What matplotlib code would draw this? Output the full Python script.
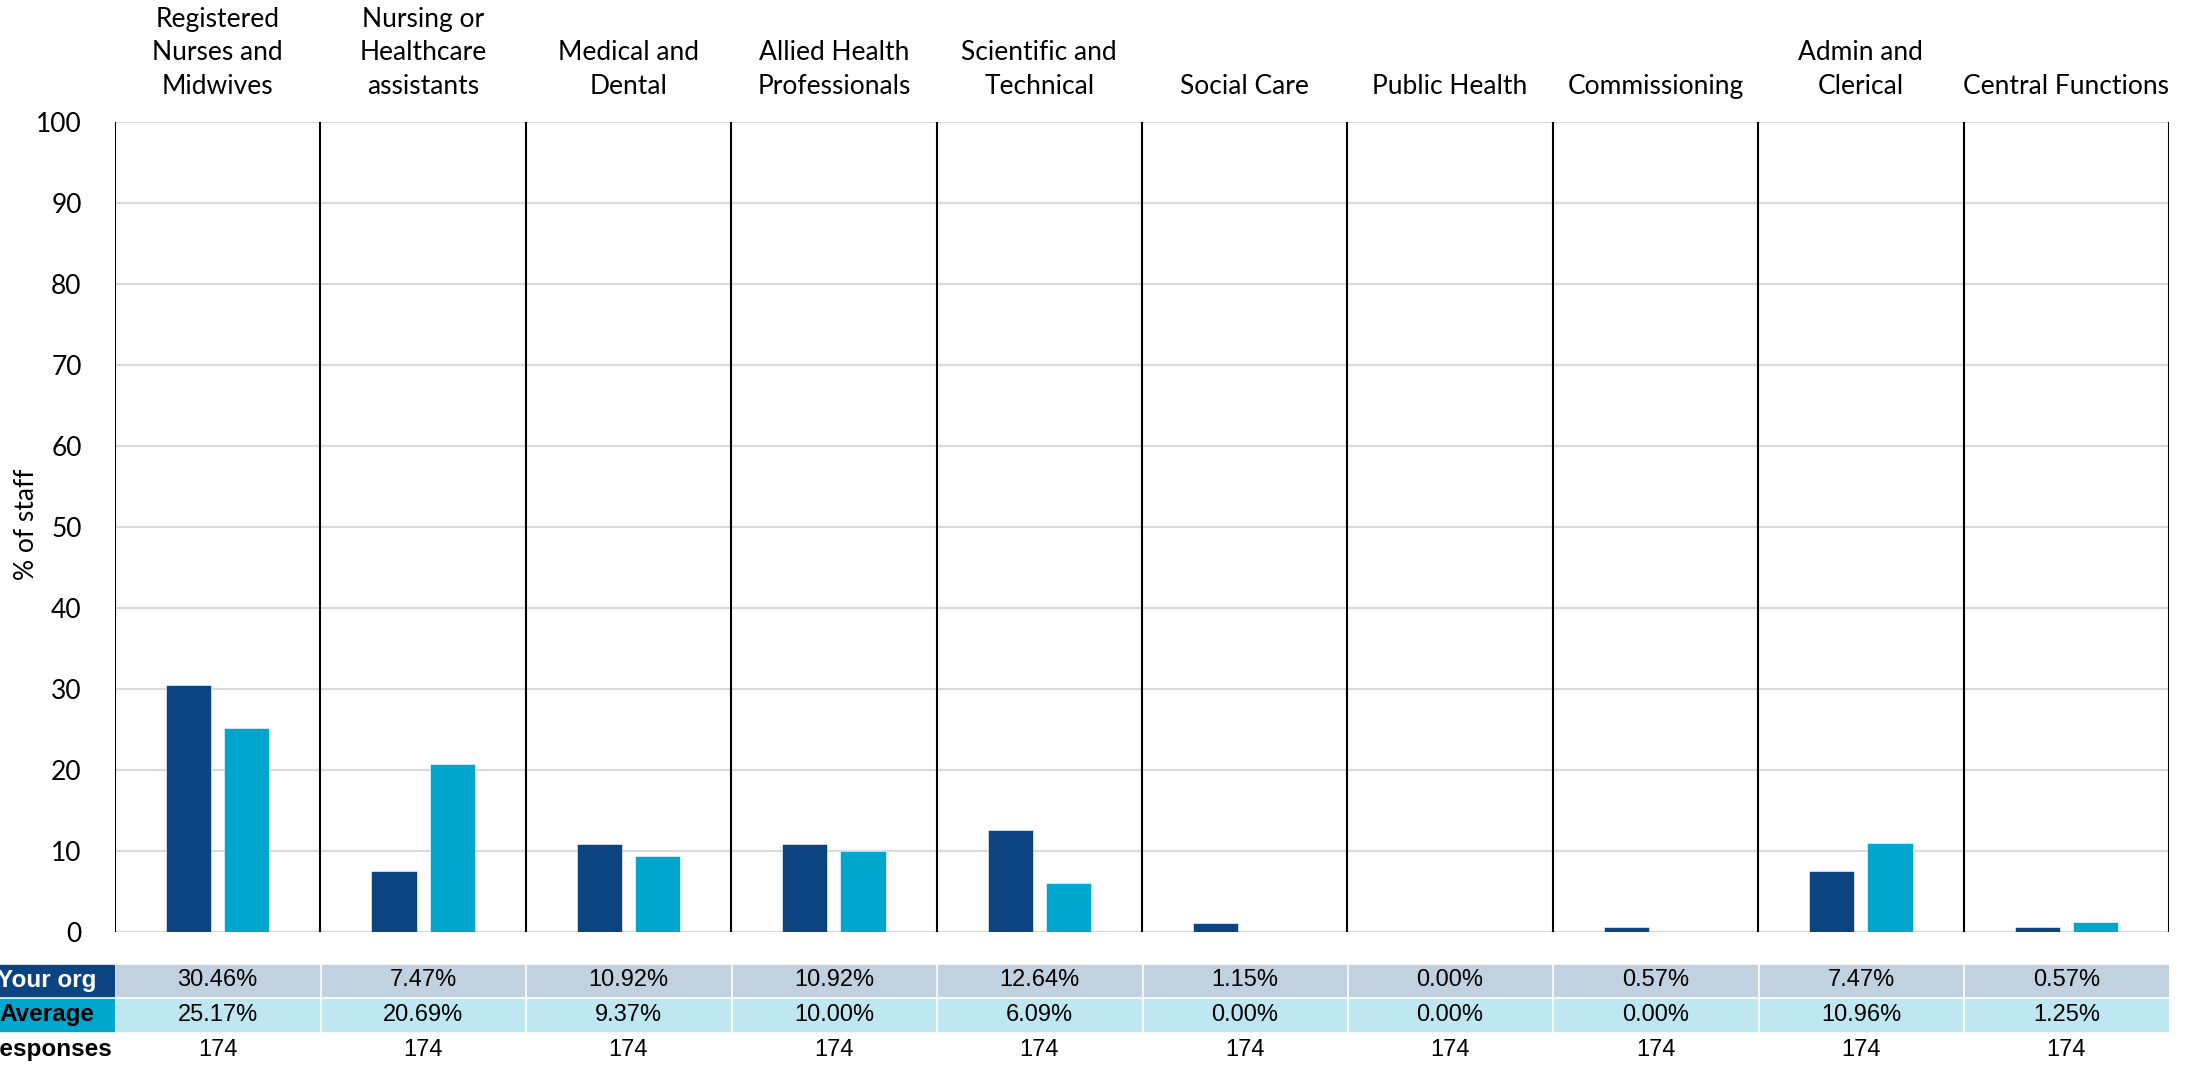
import numpy as np
import matplotlib
matplotlib.use("Agg")
import matplotlib.pyplot as plt
from matplotlib.patches import Rectangle

categories = ["Registered\nNurses and\nMidwives", "Nursing or\nHealthcare\nassistants",
              "Medical and\nDental", "Allied Health\nProfessionals", "Scientific and\nTechnical",
              "Social Care", "Public Health", "Commissioning", "Admin and\nClerical",
              "Central Functions"]
your_org = [30.46, 7.47, 10.92, 10.92, 12.64, 1.15, 0.00, 0.57, 7.47, 0.57]
average = [25.17, 20.69, 9.37, 10.00, 6.09, 0.00, 0.00, 0.00, 10.96, 1.25]
responses = [174] * 10
yticks = list(range(0, 101, 10))

DARK, LIGHT = "#0B4480", "#00A6CC"
DARK_CELL, LIGHT_CELL = "#C2D1E0", "#BFE7F1"
W, H = 2187, 1067

fig = plt.figure(figsize=(W / 100, H / 100), dpi=100)
# plot area in pixels: x 115..2169, y 122..932
L, R, T, B = 115, 2169, 122, 932
ax = fig.add_axes([L / W, 1 - B / H, (R - L) / W, (B - T) / H])
x = np.arange(len(categories))
bw, off = 0.22, 0.142
ax.bar(x - off, your_org, bw, color=DARK, edgecolor="white", linewidth=0.4, zorder=3)
ax.bar(x + off, average, bw, color=LIGHT, edgecolor="white", linewidth=0.4, zorder=3)
ax.set_xlim(-0.5, len(categories) - 0.5)
ax.set_ylim(0, 100)
ax.set_yticks(yticks)
ax.yaxis.grid(True, color="#D9D9D9", linewidth=1.5, zorder=0)
ax.set_xticks([])
for s in ax.spines.values():
    s.set_visible(False)
ax.axhline(0, color="#D9D9D9", linewidth=1.5, zorder=2)
for b in np.arange(-0.5, len(categories), 1.0):
    ax.axvline(b, color="black", linewidth=1.5, zorder=4)
ax.tick_params(axis="y", length=0, pad=24, labelsize=19)
for t in ax.get_yticklabels():
    t.set_fontfamily("Lato")
fig.text(26 / W, 1 - 524 / H, "% of staff", rotation=90, ha="center", va="center",
         fontsize=19, family="Lato")
ytop = 100 + 23 / (B - T) * 100
for i, c in enumerate(categories):
    ax.text(i, ytop, c, ha="center", va="bottom", fontsize=19, family="Lato",
            linespacing=1.43, clip_on=False)

# table below the plot
tax = fig.add_axes([L / W, 0, (R - L) / W, (H - 963) / H])
tax.set_xlim(-0.5, len(categories) - 0.5)
tax.set_ylim(3, 0)
tax.axis("off")
colw = (R - L) / 10
g = 3 / colw
gy = 0.09
rows = [("Your org", your_org, DARK, DARK_CELL, "white"),
        ("Average", average, LIGHT, LIGHT_CELL, "black")]
hx0 = -0.5 - 140 / colw
hxc = -0.5 - 68 / colw
for r, (lab, vals, hc, cc, tc) in enumerate(rows):
    tax.add_patch(Rectangle((hx0, r + gy / 2), -0.5 - g / 2 - hx0, 1 - gy, color=hc, clip_on=False))
    tax.text(hxc, r + 0.5, lab, ha="center", va="center", color=tc,
             fontsize=17.5, weight="bold", family="Liberation Sans", clip_on=False)
    for i, v in enumerate(vals):
        tax.add_patch(Rectangle((i - 0.5 + g / 2, r + gy / 2), 1 - g, 1 - gy, color=cc))
        tax.text(i, r + 0.5, f"{v:.2f}%", ha="center", va="center",
                 fontsize=17, family="Liberation Sans")
tax.text(hxc, 2.5, "Responses", ha="center", va="center",
         fontsize=17.5, weight="bold", family="Liberation Sans", clip_on=False)
for i, n in enumerate(responses):
    tax.text(i, 2.5, str(n), ha="center", va="center", fontsize=17, family="Liberation Sans")

fig.savefig("out.png", dpi=100)
